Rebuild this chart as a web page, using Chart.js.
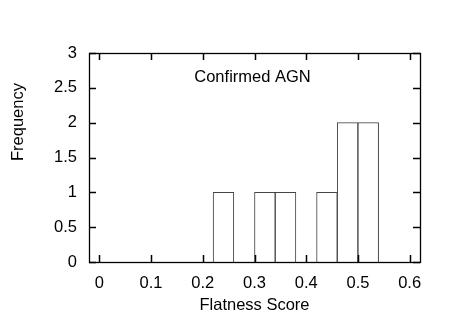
<!DOCTYPE html>
<html>
<head>
<meta charset="utf-8">
<script src="https://cdn.jsdelivr.net/npm/chart.js@4/dist/chart.umd.min.js"></script>
<style>
html,body{margin:0;padding:0;background:#fff;}
#wrap{width:450px;height:315px;}
</style>
</head>
<body>
<div id="wrap"><canvas id="c" width="450" height="315"></canvas></div>
<script>
// Histogram data (bin centres, bin width 0.04)
const binCenters = [0.24, 0.28, 0.32, 0.36, 0.40, 0.44, 0.48, 0.52];
const frequencies = [1, 0, 1, 1, 0, 1, 2, 2];
const xTicks = [0, 0.1, 0.2, 0.3, 0.4, 0.5, 0.6];
const yTicks = [0, 0.5, 1, 1.5, 2, 2.5, 3];
const xTitle = 'Flatness Score';
const yTitle = 'Frequency';
const label = 'Confirmed AGN';

const FONT = "'Liberation Sans', Arial, Helvetica, sans-serif";

const framePlugin = {
  id: 'frame',
  afterDraw(chart) {
    const ctx = chart.ctx;
    const a = chart.chartArea;
    const xs = chart.scales.x, ys = chart.scales.y;
    const L = 7;
    const left = Math.round(a.left), right = Math.round(a.right);
    const top = Math.round(a.top), bottom = Math.round(a.bottom);
    ctx.save();
    ctx.fillStyle = '#000000';
    for (const v of xTicks) {
      const px = Math.round(xs.getPixelForValue(v));
      ctx.fillRect(px - 0.25, bottom - L, 1.5, L);
      ctx.fillRect(px - 0.25, top, 1.5, L);
    }
    for (const v of yTicks) {
      const py = Math.round(ys.getPixelForValue(v));
      ctx.fillRect(left, py - 0.25, L, 1.5);
      ctx.fillRect(right - L, py - 0.25, L, 1.5);
    }
    ctx.strokeStyle = '#000000';
    ctx.lineWidth = 1.3;
    ctx.strokeRect(left + 0.5, top + 0.5, right - left, bottom - top);
    ctx.font = '16.5px ' + FONT;
    ctx.textAlign = 'center';
    ctx.textBaseline = 'middle';
    ctx.fillText(label, (a.left + a.right) / 2 - 2, a.top + 24);
    ctx.save();
    ctx.translate(18, a.top + 69);
    ctx.rotate(-Math.PI / 2);
    ctx.fillText(yTitle, 0, 0);
    ctx.restore();
    ctx.restore();
  }
};

new Chart(document.getElementById('c'), {
  type: 'bar',
  data: {
    datasets: [{
      data: binCenters.map((x, i) => ({ x: x, y: frequencies[i] })),
      backgroundColor: '#ffffff',
      borderColor: '#444444',
      borderWidth: 1,
      borderSkipped: 'bottom',
      barPercentage: 1,
      categoryPercentage: 1
    }]
  },
  plugins: [framePlugin],
  options: {
    responsive: false,
    animation: false,
    devicePixelRatio: 1,
    layout: { padding: { left: 0, right: 30, top: 53, bottom: 0 } },
    plugins: { legend: { display: false }, tooltip: { enabled: false } },
    scales: {
      x: {
        type: 'linear',
        offset: false,
        min: -0.02,
        max: 0.62,
        afterBuildTicks(s) { s.ticks = xTicks.map(v => ({ value: v })); },
        afterFit(s) { s.height = 53; },
        grid: { display: false, drawTicks: false, offset: false },
        border: { display: false },
        ticks: {
          padding: 12,
          color: '#000',
          font: { size: 16.5, family: FONT },
          maxRotation: 0,
          callback: v => String(Math.round(v * 10) / 10)
        },
        title: {
          display: true,
          text: xTitle,
          color: '#000',
          font: { size: 16.5, family: FONT },
          padding: { top: 3, bottom: 0 }
        }
      },
      y: {
        min: 0,
        max: 3,
        afterBuildTicks(s) { s.ticks = yTicks.map(v => ({ value: v })); },
        afterFit(s) { s.width = 89; },
        grid: { display: false, drawTicks: false },
        border: { display: false },
        ticks: {
          padding: 12,
          color: '#000',
          font: { size: 16.5, family: FONT },
          callback: v => String(v)
        }
      }
    }
  }
});
</script>
</body>
</html>
